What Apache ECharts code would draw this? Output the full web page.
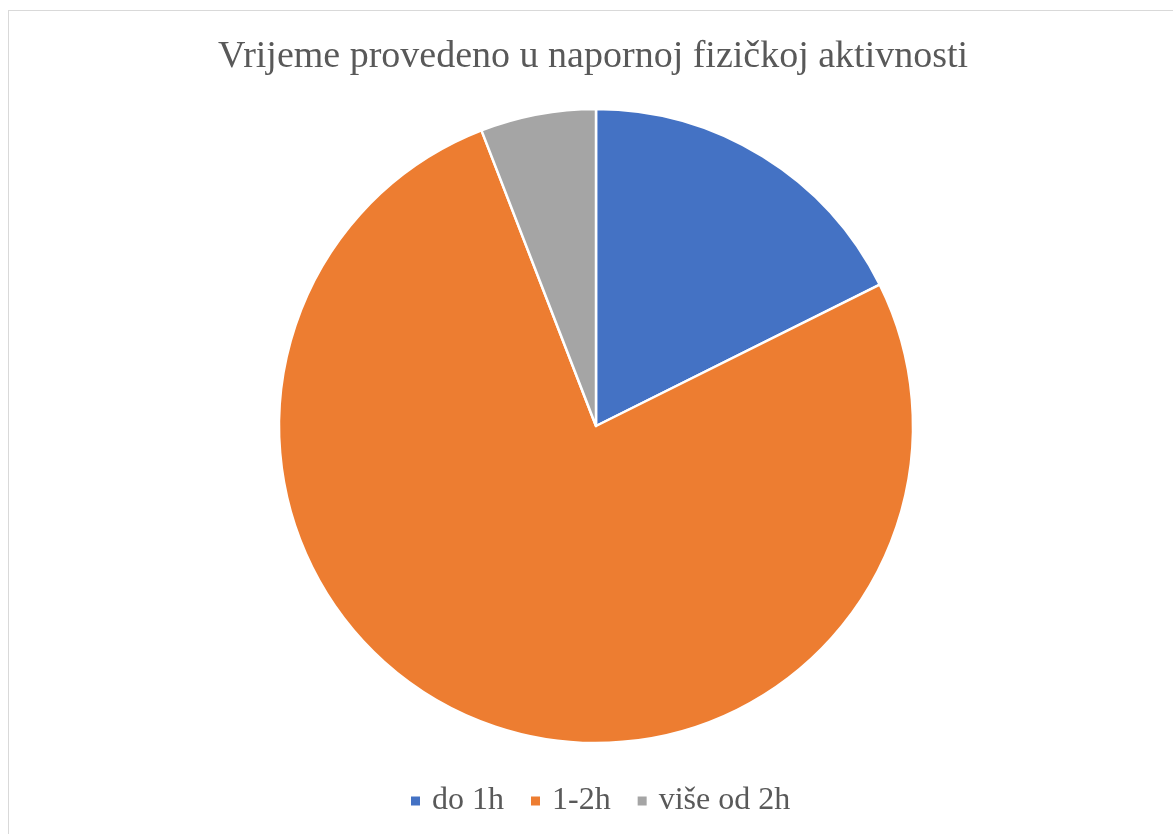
<!DOCTYPE html>
<html>
<head>
<meta charset="utf-8">
<script src="https://cdn.jsdelivr.net/npm/echarts@6/dist/echarts.min.js"></script>
<style>
  html, body { margin: 0; padding: 0; background: #fff; overflow: hidden; }
  #frame {
    position: absolute; left: 8px; top: 10px; width: 1200px; height: 900px;
    border: 1px solid #d9d9d9; box-sizing: border-box;
  }
  #chart { position: absolute; left: 0; top: 0; width: 1173px; height: 834px; }
</style>
</head>
<body>
<div id="frame"></div>
<div id="chart"></div>
<script>
const titleText = 'Vrijeme provedeno u napornoj fizičkoj aktivnosti';
const categories = ['do 1h', '1-2h', 'više od 2h'];
const values = [3, 13, 1];
const colors = ['#4472C4', '#ED7D31', '#A5A5A5'];

const myChart = echarts.init(document.getElementById('chart'));
const option = {
  animation: false,
  color: colors,
  title: {
    text: titleText,
    left: 213,
    top: 33,
    textStyle: {
      fontFamily: 'Liberation Serif',
      fontSize: 38,
      fontWeight: 'normal',
      color: '#595959',
    },
  },
  legend: {
    data: categories,
    bottom: 12,
    left: 404,
    icon: 'rect',
    itemWidth: 11,
    itemHeight: 11,
    itemGap: 25,
    textStyle: {
      fontFamily: 'Liberation Serif',
      fontSize: 32,
      color: '#595959',
      padding: [0, 0, 0, 6],
    },
  },
  series: [{
    type: 'pie',
    center: [596, 426],
    radius: 317,
    startAngle: 90,
    clockwise: true,
    label: { show: false },
    labelLine: { show: false },
    emphasis: { disabled: true },
    itemStyle: { borderColor: '#fff', borderWidth: 2.5 },
    data: categories.map((name, i) => ({ name, value: values[i] })),
  }],
};
myChart.setOption(option);
</script>
</body>
</html>
